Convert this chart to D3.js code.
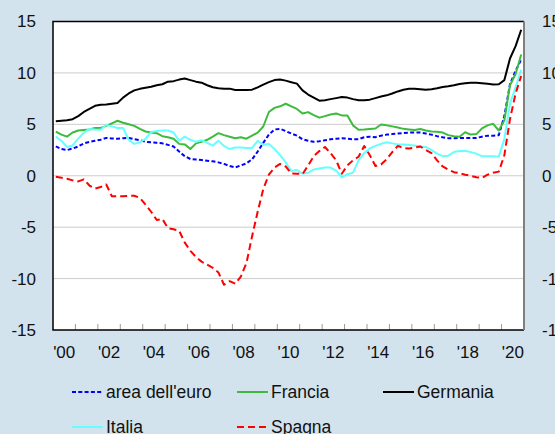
<!DOCTYPE html>
<meta charset="utf-8">
<script src="https://d3js.org/d3.v7.min.js"></script>
<style>
  body { margin: 0; background: #d2e3ed; }
  svg { display: block; font-family: "Liberation Sans", Arial, sans-serif; }
</style>
<div id="chart"></div>
<script>
  // quarterly values, 2000 Q1 .. 2020 Q4
  const years = d3.range(2000, 2021);
  const quarters = years.flatMap(y => [1, 2, 3, 4].map(q => y + "Q" + q));
  const yTicks = [-15, -10, -5, 0, 5, 10, 15];

  const euroArea = [2.85, 2.6, 2.5, 2.65, 2.85, 3.15, 3.3, 3.4, 3.5, 3.68, 3.63, 3.6,
    3.65, 3.68, 3.55, 3.45, 3.3, 3.25, 3.2, 3.15, 3.0, 2.85, 2.35, 1.9,
    1.63, 1.58, 1.53, 1.47, 1.4, 1.3, 1.15, 0.95, 0.81, 1.0, 1.2, 1.6,
    2.35, 3.2, 4.0, 4.5, 4.56, 4.35, 4.1, 3.9, 3.55, 3.4, 3.3, 3.35,
    3.45, 3.55, 3.6, 3.65, 3.6, 3.55, 3.55, 3.75, 3.8, 3.75, 3.9, 4.0,
    4.05, 4.1, 4.15, 4.2, 4.2, 4.2, 4.1, 4.0, 3.85, 3.74, 3.65, 3.65,
    3.67, 3.68, 3.68, 3.68, 3.8, 3.9, 3.9, 3.95, 5.8, 8.9, 10.2, 11.3];

  const francia = [4.3, 4.0, 3.8, 4.2, 4.4, 4.45, 4.5, 4.65, 4.65, 4.85, 5.1, 5.35,
    5.15, 5.0, 4.85, 4.55, 4.3, 4.2, 4.14, 3.85, 3.75, 3.6, 3.1, 3.05,
    2.6, 3.15, 3.3, 3.5, 3.8, 4.14, 3.95, 3.8, 3.65, 3.74, 3.6, 3.9,
    4.2, 4.79, 6.2, 6.6, 6.75, 7.0, 6.75, 6.5, 6.05, 6.19, 5.9, 5.65,
    5.8, 5.95, 6.05, 5.87, 5.87, 4.9, 4.47, 4.5, 4.55, 4.6, 4.98, 4.9,
    4.8, 4.7, 4.56, 4.5, 4.45, 4.55, 4.4, 4.3, 4.28, 4.2, 3.95, 3.85,
    3.8, 4.23, 4.0, 4.05, 4.6, 4.9, 5.05, 4.4, 5.4, 8.8, 9.9, 11.8];

  const germania = [5.3, 5.35, 5.4, 5.5, 5.8, 6.2, 6.5, 6.8, 6.9, 6.92, 7.0, 7.07,
    7.6, 8.0, 8.3, 8.45, 8.55, 8.65, 8.8, 8.9, 9.15, 9.2, 9.35, 9.45,
    9.3, 9.15, 9.05, 8.8, 8.6, 8.5, 8.47, 8.47, 8.33, 8.35, 8.35, 8.37,
    8.6, 8.86, 9.1, 9.3, 9.35, 9.25, 9.1, 8.96, 8.3, 7.9, 7.6, 7.3,
    7.35, 7.45, 7.55, 7.66, 7.6, 7.45, 7.35, 7.35, 7.4, 7.55, 7.7, 7.82,
    8.0, 8.2, 8.37, 8.45, 8.47, 8.42, 8.37, 8.42, 8.5, 8.63, 8.7, 8.8,
    8.93, 9.0, 9.05, 9.05, 9.0, 8.95, 8.88, 8.9, 9.3, 11.4, 12.6, 14.2];

  const italia = [3.8, 3.4, 2.8, 2.95, 3.6, 4.2, 4.55, 4.5, 4.47, 4.95, 4.8, 4.65,
    4.65, 3.5, 3.1, 3.25, 3.6, 4.25, 4.35, 4.4, 4.4, 4.2, 3.4, 3.8,
    3.5, 3.3, 3.45, 3.2, 2.93, 3.4, 2.9, 2.6, 2.75, 2.75, 2.7, 2.7,
    3.4, 3.0, 3.1, 2.6, 2.0, 1.3, 0.45, 0.55, 0.2, 0.3, 0.6, 0.7,
    0.8, 0.8, 0.5, -0.15, 0.15, 0.3, 1.5, 2.2, 2.65, 2.9, 3.1, 3.26,
    3.15, 3.05, 3.05, 3.0, 2.95, 2.85, 2.8, 2.5, 2.15, 1.9, 1.95, 2.3,
    2.4, 2.44, 2.3, 2.15, 1.9, 1.9, 1.9, 1.86, 3.6, 7.0, 8.6, 10.3];

  const spagna = [-0.1, -0.2, -0.3, -0.45, -0.55, -0.35, -0.95, -1.25, -1.1, -0.85, -2.0, -2.0,
    -2.0, -1.95, -1.95, -2.15, -2.8, -3.5, -4.3, -4.2, -5.1, -5.2, -5.35, -6.5,
    -7.3, -7.9, -8.35, -8.65, -8.95, -9.4, -10.6, -10.25, -10.5, -9.8, -8.5, -5.9,
    -3.5, -1.3, 0.1, 0.8, 1.15, 0.9, 0.22, 0.2, 0.16, 1.0, 1.9, 2.4,
    2.8, 2.2, 1.5, 0.2, 1.0, 1.5, 1.85, 2.9, 2.0, 0.95, 1.1, 1.6,
    2.3, 2.9, 2.7, 2.65, 2.75, 2.85, 2.5, 2.2, 1.5, 0.9, 0.6, 0.35,
    0.25, 0.1, 0.0, -0.15, -0.2, 0.1, 0.3, 0.4, 2.0, 5.5, 8.0, 9.7];

  const series = [
    {name: "area dell'euro", values: euroArea, color: "#0000ff", dash: "4,2.3"},
    {name: "Francia", values: francia, color: "#3dbb3d", dash: null},
    {name: "Germania", values: germania, color: "#000000", dash: null},
    {name: "Italia", values: italia, color: "#66ffff", dash: null},
    {name: "Spagna", values: spagna, color: "#ff0000", dash: "7,4"}
  ];

  const width = 555, height = 434;
  const plot = {left: 53, right: 524, top: 21.5, bottom: 330};

  const svg = d3.select("#chart").append("svg")
    .attr("width", width)
    .attr("height", height);

  const x = d3.scaleLinear()
    .domain([0, quarters.length])
    .range([plot.left, plot.right]);

  const y = d3.scaleLinear()
    .domain([-15, 15])
    .range([plot.bottom, plot.top]);

  // plot background
  svg.append("rect")
    .attr("x", plot.left).attr("y", plot.top)
    .attr("width", plot.right - plot.left)
    .attr("height", plot.bottom - plot.top)
    .attr("fill", "#fff");

  // gridlines
  svg.append("g")
    .selectAll("line")
    .data(yTicks.slice(1, -1))
    .join("line")
      .attr("x1", plot.left).attr("x2", plot.right)
      .attr("y1", d => y(d)).attr("y2", d => y(d))
      .attr("stroke", "#cccccc")
      .attr("stroke-width", 1);

  // left and right value labels (plain hyphen for negatives, as in the original)
  const fmt = d => String(d);
  const yAxisL = d3.axisLeft(y).tickValues(yTicks).tickFormat(fmt).tickSize(0).tickPadding(17);
  svg.append("g")
    .attr("transform", `translate(${plot.left},0)`)
    .call(yAxisL)
    .call(g => g.select(".domain").remove())
    .call(g => g.selectAll("text").attr("font-size", 17).attr("fill", "#111"));

  const yAxisR = d3.axisRight(y).tickValues(yTicks).tickFormat(fmt).tickSize(0).tickPadding(18);
  svg.append("g")
    .attr("transform", `translate(${plot.right},0)`)
    .call(yAxisR)
    .call(g => g.select(".domain").remove())
    .call(g => g.selectAll("text").attr("font-size", 17).attr("fill", "#111"));

  // bottom axis: ticks at year boundaries, labels centred within every other year
  const yearTicks = years.slice(1).map(yr => (yr - 2000) * 4);
  svg.append("g")
    .selectAll("line")
    .data(yearTicks)
    .join("line")
      .attr("x1", d => x(d)).attr("x2", d => x(d))
      .attr("y1", plot.bottom).attr("y2", plot.bottom - 6)
      .attr("stroke", "#999")
      .attr("stroke-width", 1);

  svg.append("g")
    .selectAll("text")
    .data(years.filter(yr => yr % 2 === 0))
    .join("text")
      .attr("x", yr => x((yr - 2000) * 4 + 2))
      .attr("y", 358)
      .attr("text-anchor", "middle")
      .attr("font-size", 17)
      .attr("fill", "#111")
      .text(yr => "'" + String(yr).slice(2));

  // lines
  const line = d3.line()
    .x((d, i) => x(i + 0.5))
    .y(d => y(d));

  svg.append("g")
    .selectAll("path")
    .data(series)
    .join("path")
      .attr("fill", "none")
      .attr("stroke", d => d.color)
      .attr("stroke-width", 2)
      .attr("stroke-dasharray", d => d.dash)
      .attr("stroke-linejoin", "round")
      .attr("d", d => line(d.values));

  // frame
  svg.append("path")
    .attr("d", `M${plot.right},${plot.top}H${plot.left}V${plot.bottom}H${plot.right}`)
    .attr("fill", "none")
    .attr("stroke", "#000")
    .attr("stroke-width", 1.5);
  svg.append("line")
    .attr("x1", plot.right).attr("x2", plot.right)
    .attr("y1", plot.top).attr("y2", plot.bottom)
    .attr("stroke", "#808080")
    .attr("stroke-width", 2);

  // legend
  const legendPos = [[72, 392], [237, 392], [383, 392], [72, 427], [237, 427]];
  const legend = svg.append("g")
    .selectAll("g")
    .data(series)
    .join("g")
      .attr("transform", (d, i) => `translate(${legendPos[i][0]},${legendPos[i][1]})`);

  legend.append("line")
    .attr("x1", 0).attr("x2", 31)
    .attr("stroke", d => d.color)
    .attr("stroke-width", 2)
    .attr("stroke-dasharray", d => d.dash);

  legend.append("text")
    .attr("x", 34)
    .attr("dy", "0.35em")
    .attr("font-size", 17.5)
    .attr("fill", "#111")
    .text(d => d.name);
</script>
